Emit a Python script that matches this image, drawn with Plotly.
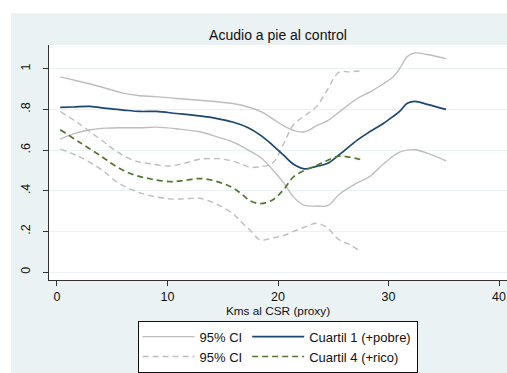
import plotly.graph_objects as go

# ---- data ----
x_q1 = [0.3, 1.5, 3, 4.5, 6, 7.5, 9, 10.8, 12.9, 14.5, 15.9, 17.3, 18.5, 19.5, 20.5,
        21.4, 22.4, 23.5, 24.5, 25.6, 27.2, 28.3, 29.5, 30.4, 31, 31.7, 32.4, 33.5, 35.2]
q1_upper = [0.96, 0.945, 0.925, 0.903, 0.88, 0.867, 0.863, 0.854, 0.845, 0.838, 0.829, 0.812,
            0.788, 0.755, 0.72, 0.697, 0.69, 0.72, 0.745, 0.79, 0.855, 0.885, 0.925, 0.96,
            1.0, 1.06, 1.078, 1.07, 1.05]
q1_mean = [0.81, 0.812, 0.815, 0.805, 0.797, 0.79, 0.79, 0.78, 0.768, 0.755, 0.738, 0.71,
           0.67, 0.625, 0.575, 0.53, 0.508, 0.52, 0.535, 0.58, 0.65, 0.69, 0.73, 0.765,
           0.79, 0.83, 0.84, 0.825, 0.80]
q1_lower = [0.654, 0.68, 0.70, 0.708, 0.71, 0.71, 0.713, 0.705, 0.69, 0.665, 0.64, 0.60,
            0.56, 0.505, 0.44, 0.37, 0.328, 0.325, 0.327, 0.385, 0.44, 0.47, 0.53, 0.57,
            0.59, 0.60, 0.602, 0.585, 0.547]

x_q4 = [0.3, 2, 4, 5.5, 7, 8.5, 10.2, 11.5, 12.9, 14.5, 15.9, 16.8, 17.5, 18.4, 19.5,
        20.5, 21.4, 22.6, 23.5, 24.4, 25.5, 26.5, 27.5]
q4_mean = [0.70, 0.64, 0.57, 0.515, 0.478, 0.458, 0.445, 0.45, 0.46, 0.445, 0.415, 0.38,
           0.35, 0.337, 0.355, 0.405, 0.468, 0.505, 0.525, 0.548, 0.57, 0.565, 0.553]
q4_upper = [0.79, 0.73, 0.65, 0.59, 0.548, 0.532, 0.522, 0.535, 0.555, 0.558, 0.546, 0.528,
            0.515, 0.518, 0.535, 0.63, 0.725, 0.776, 0.815, 0.89, 0.982, 0.985, 0.99]
q4_lower = [0.605, 0.568, 0.505, 0.44, 0.40, 0.375, 0.36, 0.36, 0.363, 0.333, 0.288, 0.24,
            0.205, 0.158, 0.168, 0.18, 0.20, 0.225, 0.24, 0.22, 0.16, 0.135, 0.10]

y_ticks = [0, 0.2, 0.4, 0.6, 0.8, 1]
y_ticktext = ["0", ".2", ".4", ".6", ".8", "1"]
x_ticks = [0, 10, 20, 30, 40]

BG = "#EAF2F3"
GRAY = "#BDBDBD"
NAVY = "#1A476F"
GREEN = "#55752F"
FONT = "Liberation Sans, Arial, sans-serif"

fig = go.Figure()
fig.add_trace(go.Scatter(x=x_q1, y=q1_upper, mode="lines", name="95% CI",
                         legendgroup="ci", line=dict(color=GRAY, width=1.4),
                         line_shape="spline"))
fig.add_trace(go.Scatter(x=x_q1, y=q1_lower, mode="lines", name="95% CI",
                         legendgroup="ci", showlegend=False,
                         line=dict(color=GRAY, width=1.4), line_shape="spline"))
fig.add_trace(go.Scatter(x=x_q4, y=q4_upper, mode="lines", name="95% CI",
                         legendgroup="ci", line=dict(color=GRAY, width=1.4, dash="6px,4px"),
                         line_shape="spline"))
fig.add_trace(go.Scatter(x=x_q4, y=q4_lower, mode="lines", name="95% CI",
                         legendgroup="ci", showlegend=False,
                         line=dict(color=GRAY, width=1.4, dash="6px,4px"), line_shape="spline"))
fig.add_trace(go.Scatter(x=x_q1, y=q1_mean, mode="lines", name="Cuartil 1 (+pobre)",
                         legendgroup="q", line=dict(color=NAVY, width=1.7),
                         line_shape="spline"))
fig.add_trace(go.Scatter(x=x_q4, y=q4_mean, mode="lines", name="Cuartil 4 (+rico)",
                         legendgroup="q", line=dict(color=GREEN, width=1.7, dash="6px,4px"),
                         line_shape="spline"))

fig.update_layout(
    width=507, height=373,
    margin=dict(l=49, r=0, t=45, b=91),
    paper_bgcolor=BG, plot_bgcolor="white",
    font=dict(family=FONT, size=12, color="#111"),
    title=dict(text="Acudio a pie al control", x=(278 / 507), xanchor="center",
               y=1 - 35 / 373, yanchor="middle", yref="container",
               font=dict(size=14, color="#111")),
    showlegend=True,
    legend=dict(orientation="h", traceorder="grouped", x=0.499, xanchor="center",
                y=-0.173, yanchor="top", bgcolor="white", bordercolor="#111",
                borderwidth=1, font=dict(size=13), tracegroupgap=40, itemwidth=52),
    shapes=[
        dict(type="rect", xref="paper", yref="paper", x0=-0.2, x1=(11 - 49) / 458,
             y0=-0.6, y1=1.4, fillcolor="white", line=dict(width=0), layer="below"),
        dict(type="rect", xref="paper", yref="paper", x0=-0.2, x1=1.2,
             y0=(282 - 13) / 237, y1=1.4, fillcolor="white", line=dict(width=0), layer="below"),
    ],
)
fig.update_xaxes(range=[-0.72, 40.72], tickvals=x_ticks, showgrid=False, zeroline=False,
                 showline=True, linecolor="#333", linewidth=1.3, ticks="outside",
                 ticklen=5, tickcolor="#333", tickfont=dict(size=12.5),
                 title=dict(text="Kms al CSR (proxy)", standoff=2, font=dict(size=11.8)))
fig.update_yaxes(range=[-0.039, 1.117], tickvals=y_ticks, ticktext=y_ticktext,
                 tickangle=-90, showgrid=True, gridcolor=BG, gridwidth=1, zeroline=False,
                 showline=True, linecolor="#333", linewidth=1.3, ticks="outside",
                 ticklen=5, tickcolor="#333", tickfont=dict(size=12.5),
                 ticklabelstandoff=8)

fig.write_html("out.html")
